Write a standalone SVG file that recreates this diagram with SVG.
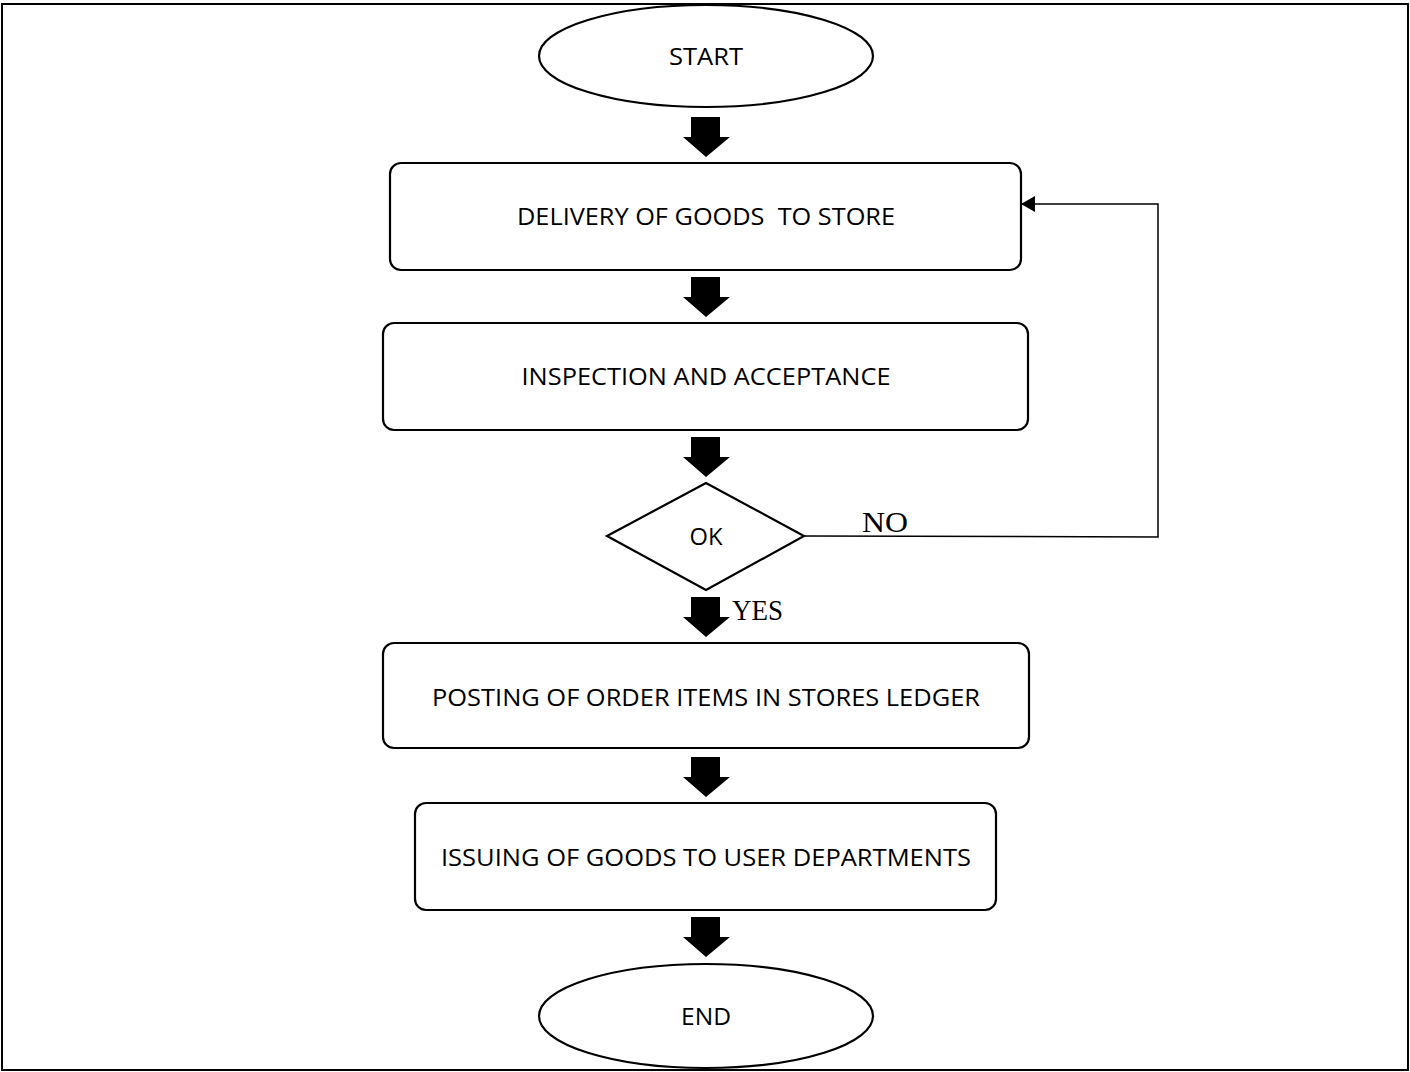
<svg xmlns="http://www.w3.org/2000/svg" width="1410" height="1072" viewBox="0 0 1410 1072">
<defs>
<style>
.frame{fill:#fff;stroke:#000;stroke-width:2}
.box{fill:#fff;stroke:#000;stroke-width:2.2}
.lbl{font-family:"Open Sans","Liberation Sans",Arial,sans-serif;font-size:24.5px;fill:#000;text-anchor:middle}
.tnr{font-family:"Liberation Serif","Times New Roman",serif;font-size:29px;fill:#000}
.line{fill:none;stroke:#000;stroke-width:1.5}
.blk{fill:#000}
</style>
<marker id="ah" markerWidth="14" markerHeight="16" refX="14" refY="8" orient="auto" markerUnits="userSpaceOnUse">
<path d="M0,0 L14,8 L0,16 Z" fill="#000"/>
</marker>
<path id="bigarrow" d="M-15,0 H14 V20 H24 L0,40 L-23,20 H-15 Z"/>
</defs>
<rect x="2" y="4" width="1406" height="1066" class="frame"/>

<g id="start">
<ellipse cx="706" cy="56" rx="167" ry="51" class="box"/>
<text x="706" y="65" class="lbl" textLength="74" lengthAdjust="spacingAndGlyphs">START</text>
</g>
<g id="delivery">
<rect x="390" y="163" width="631" height="107" rx="11" class="box"/>
<text x="706" y="225" class="lbl" textLength="378" lengthAdjust="spacingAndGlyphs" xml:space="preserve">DELIVERY OF GOODS  TO STORE</text>
</g>
<g id="inspection">
<rect x="383" y="323" width="645" height="107" rx="11" class="box"/>
<text x="706" y="385" class="lbl" textLength="369" lengthAdjust="spacingAndGlyphs">INSPECTION AND ACCEPTANCE</text>
</g>
<g id="ok">
<polygon points="607,536 706,483 804,536 706,590" class="box"/>
<text x="706" y="545" class="lbl" textLength="33" lengthAdjust="spacingAndGlyphs">OK</text>
</g>
<g id="posting">
<rect x="383" y="643" width="646" height="105" rx="11" class="box"/>
<text x="706" y="706" class="lbl" textLength="548" lengthAdjust="spacingAndGlyphs">POSTING OF ORDER ITEMS IN STORES LEDGER</text>
</g>
<g id="issuing">
<rect x="415" y="803" width="581" height="107" rx="11" class="box"/>
<text x="706" y="866" class="lbl" textLength="530" lengthAdjust="spacingAndGlyphs">ISSUING OF GOODS TO USER DEPARTMENTS</text>
</g>
<g id="end">
<ellipse cx="706" cy="1016" rx="167" ry="52" class="box"/>
<text x="706" y="1025" class="lbl" textLength="50" lengthAdjust="spacingAndGlyphs">END</text>
</g>

<g id="connectors">
<use href="#bigarrow" class="blk" x="706" y="117"/>
<use href="#bigarrow" class="blk" x="706" y="277"/>
<use href="#bigarrow" class="blk" x="706" y="437"/>
<use href="#bigarrow" class="blk" x="706" y="597"/>
<use href="#bigarrow" class="blk" x="706" y="757"/>
<use href="#bigarrow" class="blk" x="706" y="917"/>
<polyline points="804,536 1158,537 1158,204 1021,204" class="line" marker-end="url(#ah)"/>
<text x="862" y="532" class="tnr" textLength="46" lengthAdjust="spacingAndGlyphs">NO</text>
<text x="732" y="620" class="tnr" textLength="51" lengthAdjust="spacingAndGlyphs">YES</text>
</g>
</svg>
